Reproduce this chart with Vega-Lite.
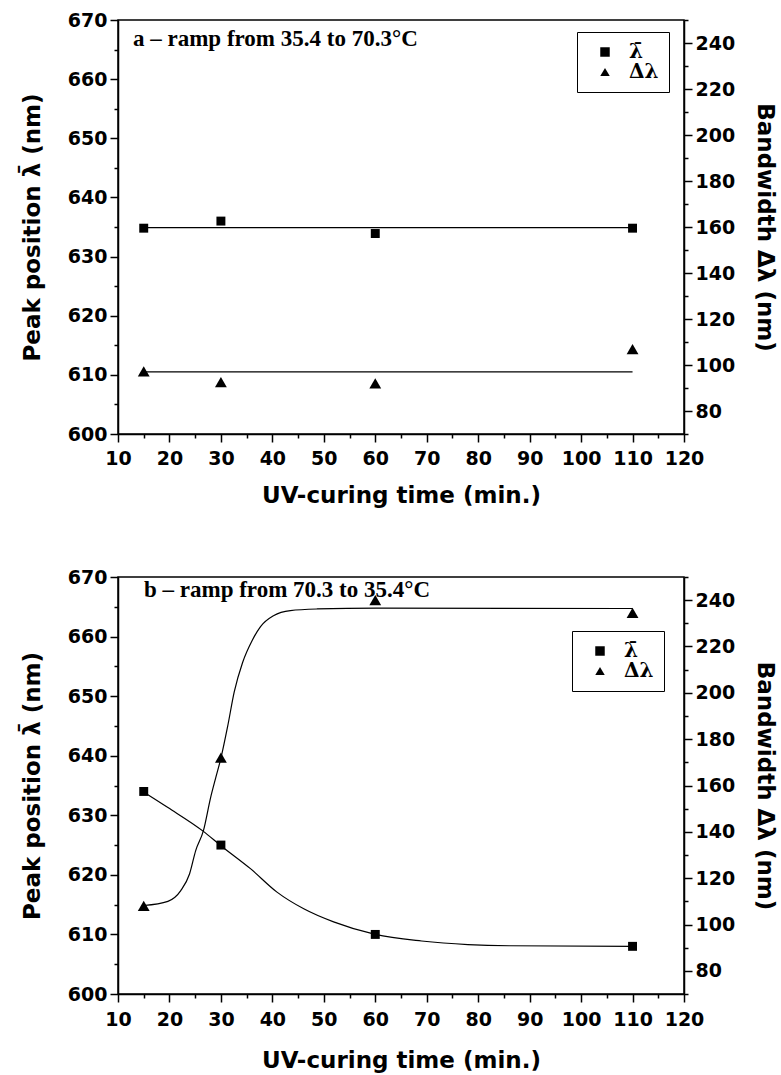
{
  "$schema": "https://vega.github.io/schema/vega-lite/v6.json",
  "background": "white",
  "padding": {"left": 20, "top": 10, "right": 0, "bottom": 0},
  "spacing": 59,
  "datasets": {
    "a_obs": [
      {"t": 15, "s": "\u03bb\u0304", "v": 634.8},
      {"t": 30, "s": "\u03bb\u0304", "v": 636.0},
      {"t": 60, "s": "\u03bb\u0304", "v": 633.9},
      {"t": 110, "s": "\u03bb\u0304", "v": 634.8},
      {"t": 15, "s": "\u0394\u03bb", "v": 97.2},
      {"t": 30, "s": "\u0394\u03bb", "v": 92.6},
      {"t": 60, "s": "\u0394\u03bb", "v": 92.0},
      {"t": 110, "s": "\u0394\u03bb", "v": 106.9}
    ],
    "a_fit": [
      {"t": 15, "s": "\u03bb\u0304", "v": 634.9},
      {"t": 110, "s": "\u03bb\u0304", "v": 634.9},
      {"t": 15, "s": "\u0394\u03bb", "v": 97.0},
      {"t": 110, "s": "\u0394\u03bb", "v": 97.0}
    ],
    "b_obs": [
      {"t": 15, "s": "\u03bb\u0304", "v": 634.0},
      {"t": 30, "s": "\u03bb\u0304", "v": 625.0},
      {"t": 60, "s": "\u03bb\u0304", "v": 610.0},
      {"t": 110, "s": "\u03bb\u0304", "v": 608.0},
      {"t": 15, "s": "\u0394\u03bb", "v": 108.0},
      {"t": 30, "s": "\u0394\u03bb", "v": 172.0},
      {"t": 60, "s": "\u0394\u03bb", "v": 240.0},
      {"t": 110, "s": "\u0394\u03bb", "v": 234.5}
    ],
    "b_fit": [
      {"t": 15, "s": "\u03bb\u0304", "v": 633.9},
      {"t": 19.7, "s": "\u03bb\u0304", "v": 631.3},
      {"t": 26.6, "s": "\u03bb\u0304", "v": 627.3},
      {"t": 30, "s": "\u03bb\u0304", "v": 624.9},
      {"t": 35.8, "s": "\u03bb\u0304", "v": 621.0},
      {"t": 40.9, "s": "\u03bb\u0304", "v": 617.1},
      {"t": 46.1, "s": "\u03bb\u0304", "v": 614.3},
      {"t": 51.9, "s": "\u03bb\u0304", "v": 612.1},
      {"t": 60, "s": "\u03bb\u0304", "v": 610.0},
      {"t": 69, "s": "\u03bb\u0304", "v": 608.9},
      {"t": 78, "s": "\u03bb\u0304", "v": 608.3},
      {"t": 86, "s": "\u03bb\u0304", "v": 608.1},
      {"t": 110, "s": "\u03bb\u0304", "v": 608.0},
      {"t": 15, "s": "\u0394\u03bb", "v": 108.2},
      {"t": 19.7, "s": "\u0394\u03bb", "v": 110.0},
      {"t": 22.2, "s": "\u0394\u03bb", "v": 114.6},
      {"t": 23.9, "s": "\u0394\u03bb", "v": 121.8},
      {"t": 25.1, "s": "\u0394\u03bb", "v": 131.9},
      {"t": 26.6, "s": "\u0394\u03bb", "v": 140.5},
      {"t": 28.0, "s": "\u0394\u03bb", "v": 154.8},
      {"t": 29.0, "s": "\u0394\u03bb", "v": 163.4},
      {"t": 30, "s": "\u0394\u03bb", "v": 171.8},
      {"t": 31.3, "s": "\u0394\u03bb", "v": 185.4},
      {"t": 32.6, "s": "\u0394\u03bb", "v": 200.5},
      {"t": 34.2, "s": "\u0394\u03bb", "v": 213.0},
      {"t": 36.1, "s": "\u0394\u03bb", "v": 222.7},
      {"t": 37.7, "s": "\u0394\u03bb", "v": 228.6},
      {"t": 40.3, "s": "\u0394\u03bb", "v": 233.4},
      {"t": 43.5, "s": "\u0394\u03bb", "v": 235.5},
      {"t": 48.7, "s": "\u0394\u03bb", "v": 236.2},
      {"t": 60.3, "s": "\u0394\u03bb", "v": 236.6},
      {"t": 110, "s": "\u0394\u03bb", "v": 236.4}
    ]
  },
  "resolve": {"scale": {"shape": "independent"}},
  "vconcat": [
    {
      "width": 566,
      "height": 414,
      "title": {
        "text": "a \u2013 ramp from 35.4 to 70.3\u00b0C",
        "anchor": "start", "frame": "group", "orient": "top",
        "offset": -58, "dx": 15, "baseline": "alphabetic",
        "font": "Liberation Serif", "fontWeight": "bold", "fontSize": 23, "color": "black"
      },
      "encoding": {
        "x": {
          "field": "t", "type": "quantitative",
          "scale": {"domain": [10, 120], "nice": false, "zero": false},
          "axis": {
            "title": "UV-curing time (min.)",
            "values": [10, 15, 20, 25, 30, 35, 40, 45, 50, 55, 60, 65, 70, 75, 80, 85, 90, 95, 100, 105, 110, 115, 120],
            "labelExpr": "datum.value % 10 === 0 ? datum.label : ''",
            "tickDash": {"condition": {"test": "datum.value % 10 !== 0", "value": [4, 20]}, "value": []},
            "labelPadding": 7, "titlePadding": 16, "labelFlush": false, "labelOverlap": false
          }
        }
      },
      "layer": [
        {
          "encoding": {
            "y": {
              "field": "v", "type": "quantitative",
              "scale": {"domain": [600, 670], "nice": false, "zero": false},
              "axis": {
                "orient": "left",
                "title": "Peak position \u03bb\u0304 (nm)",
                "values": [600, 605, 610, 615, 620, 625, 630, 635, 640, 645, 650, 655, 660, 665, 670],
                "labelExpr": "datum.value % 10 === 0 ? datum.label : ''",
                "tickDash": {"condition": {"test": "datum.value % 10 !== 0", "value": [4, 20]}, "value": []},
                "labelPadding": 3, "titlePadding": 23, "labelFlush": false, "labelOverlap": false
              }
            }
          },
          "layer": [
            {
              "data": {"name": "a_fit"},
              "transform": [{"filter": {"field": "s", "equal": "\u03bb\u0304"}}],
              "mark": {"type": "line", "color": "black", "strokeWidth": 1.2}
            },
            {
              "data": {"name": "a_obs"},
              "transform": [{"filter": {"field": "s", "equal": "\u03bb\u0304"}}],
              "mark": {"type": "point", "filled": true, "color": "black", "opacity": 1, "size": 80},
              "encoding": {
                "shape": {
                  "field": "s", "type": "nominal",
                  "scale": {"domain": ["\u03bb\u0304", "\u0394\u03bb"], "range": ["square", "triangle-up"]},
                  "legend": {"orient": "none", "legendX": 459, "legendY": 12}
                }
              }
            }
          ]
        },
        {
          "encoding": {
            "y": {
              "field": "v", "type": "quantitative",
              "scale": {"domain": [70, 250], "nice": false, "zero": false},
              "axis": {
                "orient": "right",
                "title": "Bandwidth \u0394\u03bb (nm)",
                "values": [70, 80, 90, 100, 110, 120, 130, 140, 150, 160, 170, 180, 190, 200, 210, 220, 230, 240, 250],
                "labelExpr": "datum.value % 20 === 0 ? datum.label : ''",
                "tickDash": {"condition": {"test": "datum.value % 20 !== 0", "value": [4, 20]}, "value": []},
                "labelPadding": 3, "titlePadding": 18, "labelFlush": false, "labelOverlap": false
              }
            }
          },
          "layer": [
            {
              "data": {"name": "a_fit"},
              "transform": [{"filter": {"field": "s", "equal": "\u0394\u03bb"}}],
              "mark": {"type": "line", "color": "black", "strokeWidth": 1.2}
            },
            {
              "data": {"name": "a_obs"},
              "transform": [{"filter": {"field": "s", "equal": "\u0394\u03bb"}}],
              "mark": {"type": "point", "filled": true, "color": "black", "opacity": 1, "size": 140},
              "encoding": {
                "shape": {
                  "field": "s", "type": "nominal",
                  "scale": {"domain": ["\u03bb\u0304", "\u0394\u03bb"], "range": ["square", "triangle-up"]},
                  "legend": {"orient": "none", "legendX": 459, "legendY": 12}
                }
              }
            }
          ]
        }
      ],
      "resolve": {"scale": {"y": "independent"}}
    },
    {
      "width": 566,
      "height": 417,
      "title": {
        "text": "b \u2013 ramp from 70.3 to 35.4\u00b0C",
        "anchor": "start", "frame": "group", "orient": "top",
        "offset": -52, "dx": 26, "baseline": "alphabetic",
        "font": "Liberation Serif", "fontWeight": "bold", "fontSize": 23, "color": "black"
      },
      "encoding": {
        "x": {
          "field": "t", "type": "quantitative",
          "scale": {"domain": [10, 120], "nice": false, "zero": false},
          "axis": {
            "title": "UV-curing time (min.)",
            "values": [10, 15, 20, 25, 30, 35, 40, 45, 50, 55, 60, 65, 70, 75, 80, 85, 90, 95, 100, 105, 110, 115, 120],
            "labelExpr": "datum.value % 10 === 0 ? datum.label : ''",
            "tickDash": {"condition": {"test": "datum.value % 10 !== 0", "value": [4, 20]}, "value": []},
            "labelPadding": 8, "titlePadding": 20, "labelFlush": false, "labelOverlap": false
          }
        }
      },
      "layer": [
        {
          "encoding": {
            "y": {
              "field": "v", "type": "quantitative",
              "scale": {"domain": [600, 670], "nice": false, "zero": false},
              "axis": {
                "orient": "left",
                "title": "Peak position \u03bb\u0304 (nm)",
                "values": [600, 605, 610, 615, 620, 625, 630, 635, 640, 645, 650, 655, 660, 665, 670],
                "labelExpr": "datum.value % 10 === 0 ? datum.label : ''",
                "tickDash": {"condition": {"test": "datum.value % 10 !== 0", "value": [4, 20]}, "value": []},
                "labelPadding": 3, "titlePadding": 23, "labelFlush": false, "labelOverlap": false
              }
            }
          },
          "layer": [
            {
              "data": {"name": "b_fit"},
              "transform": [{"filter": {"field": "s", "equal": "\u03bb\u0304"}}],
              "mark": {"type": "line", "color": "black", "strokeWidth": 1.2, "interpolate": "monotone"}
            },
            {
              "data": {"name": "b_obs"},
              "transform": [{"filter": {"field": "s", "equal": "\u03bb\u0304"}}],
              "mark": {"type": "point", "filled": true, "color": "black", "opacity": 1, "size": 80},
              "encoding": {
                "shape": {
                  "field": "s", "type": "nominal",
                  "scale": {"domain": ["\u03bb\u0304", "\u0394\u03bb"], "range": ["square", "triangle-up"]},
                  "legend": {"orient": "none", "legendX": 454, "legendY": 54}
                }
              }
            }
          ]
        },
        {
          "encoding": {
            "y": {
              "field": "v", "type": "quantitative",
              "scale": {"domain": [70, 250], "nice": false, "zero": false},
              "axis": {
                "orient": "right",
                "title": "Bandwidth \u0394\u03bb (nm)",
                "values": [70, 80, 90, 100, 110, 120, 130, 140, 150, 160, 170, 180, 190, 200, 210, 220, 230, 240, 250],
                "labelExpr": "datum.value % 20 === 0 ? datum.label : ''",
                "tickDash": {"condition": {"test": "datum.value % 20 !== 0", "value": [4, 20]}, "value": []},
                "labelPadding": 3, "titlePadding": 18, "labelFlush": false, "labelOverlap": false
              }
            }
          },
          "layer": [
            {
              "data": {"name": "b_fit"},
              "transform": [{"filter": {"field": "s", "equal": "\u0394\u03bb"}}],
              "mark": {"type": "line", "color": "black", "strokeWidth": 1.2, "interpolate": "monotone"}
            },
            {
              "data": {"name": "b_obs"},
              "transform": [{"filter": {"field": "s", "equal": "\u0394\u03bb"}}],
              "mark": {"type": "point", "filled": true, "color": "black", "opacity": 1, "size": 140},
              "encoding": {
                "shape": {
                  "field": "s", "type": "nominal",
                  "scale": {"domain": ["\u03bb\u0304", "\u0394\u03bb"], "range": ["square", "triangle-up"]},
                  "legend": {"orient": "none", "legendX": 454, "legendY": 54}
                }
              }
            }
          ]
        }
      ],
      "resolve": {"scale": {"y": "independent"}}
    }
  ],
  "config": {
    "font": "DejaVu Sans",
    "view": {"stroke": "black", "strokeWidth": 1.5},
    "axis": {
      "grid": false,
      "domainColor": "black", "domainWidth": 1.5,
      "tickColor": "black", "tickWidth": 1.5, "tickSize": 8,
      "labelFont": "DejaVu Sans", "labelFontWeight": "bold", "labelFontSize": 19, "labelColor": "black",
      "titleFont": "DejaVu Sans", "titleFontWeight": "bold", "titleFontSize": 23, "titleColor": "black"
    },
    "legend": {
      "title": null,
      "strokeColor": "black", "fillColor": "white", "padding": 10,
      "symbolOffset": 8, "labelOffset": 14, "rowPadding": 0,
      "symbolSize": 90, "symbolFillColor": "black", "symbolStrokeColor": "black", "symbolStrokeWidth": 0,
      "labelFont": "DejaVu Serif", "labelFontWeight": "bold", "labelFontSize": 20, "labelColor": "black"
    }
  }
}
